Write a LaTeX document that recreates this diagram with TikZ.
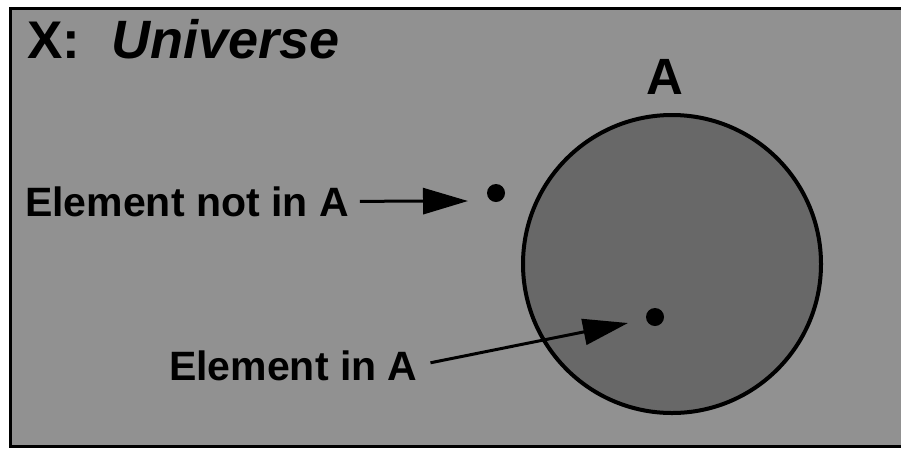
\documentclass[tikz,border=0pt]{standalone}
\usepackage{fontspec}
\setmainfont{Liberation Sans}
\usepackage{tikz}
\usetikzlibrary{arrows.meta}
\definecolor{universegray}{RGB}{145,145,145}
\definecolor{setgray}{RGB}{104,104,104}

\begin{document}
\begin{tikzpicture}[x=1pt, y=-1pt, every node/.style={inner sep=0pt, font=\bfseries}, >={Triangle[length=45pt, width=26pt]}, pointer/.style={->, line width=3pt}, elemtext/.style={anchor=base west, font=\fontsize{41}{41}\selectfont\bfseries}, dotmark/.style={circle, fill=black, minimum size=18pt}]
	\useasboundingbox (0,0) rectangle (901,448);
	\fill[universegray] (10.5,8.5) rectangle (901,446.5);
	\draw[line width=3pt] (901,8.5) -- (10.5,8.5) -- (10.5,446.5) -- (901,446.5);
	\node[anchor=base west, font=\fontsize{53}{53}\selectfont\bfseries] (xlabel) at (27,58) {X:};
	\node[anchor=base west, font=\fontsize{54}{54}\selectfont\bfseries\itshape] (universe) at (111,58) {Universe};
	\node[circle, draw, line width=4pt, fill=setgray, minimum size=298pt] (setA) at (672,264) {};
	\node[anchor=base, font=\fontsize{51}{51}\selectfont\bfseries] (alabel) at (665,94) {A};
	\node[dotmark] (outdot) at (496,193) {};
	\node[dotmark] (indot) at (655,317) {};
	\node[elemtext] (outlabel) at (25,216) {Element not in A};
	\node[elemtext] (inlabel) at (169,380) {Element in A};
	\coordinate (outtip) at (468,201);
	\coordinate (intip) at (628,323);
	\draw[pointer, shorten <=11pt] (outlabel.east) -- (outtip);
	\draw[pointer, shorten <=13pt] (inlabel.east) -- (intip);
\end{tikzpicture}
\end{document}
